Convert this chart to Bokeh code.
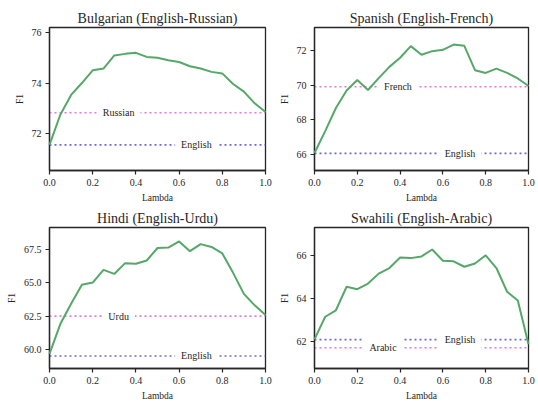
from bokeh.plotting import figure
from bokeh.layouts import column, row
from bokeh.models import Label, FixedTicker, NumeralTickFormatter, Range1d
from bokeh.embed import file_html
from bokeh.resources import INLINE

lambdas = [0.0, 0.05, 0.1, 0.15, 0.2, 0.25, 0.3, 0.35, 0.4, 0.45, 0.5,
           0.55, 0.6, 0.65, 0.7, 0.75, 0.8, 0.85, 0.9, 0.95, 1.0]

bg_f1 = [71.56, 72.75, 73.53, 74.0, 74.5, 74.57, 75.09, 75.15, 75.19, 75.03, 75.0,
         74.9, 74.83, 74.66, 74.57, 74.44, 74.38, 73.96, 73.66, 73.2, 72.86]
es_f1 = [66.06, 67.33, 68.67, 69.68, 70.29, 69.71, 70.4, 71.05, 71.58, 72.25, 71.75,
         71.96, 72.04, 72.34, 72.27, 70.86, 70.7, 70.95, 70.7, 70.38, 69.94]
hi_f1 = [59.66, 61.9, 63.43, 64.85, 65.02, 65.97, 65.67, 66.48, 66.43, 66.68, 67.62,
         67.65, 68.11, 67.38, 67.91, 67.7, 67.21, 65.75, 64.17, 63.31, 62.58]
sw_f1 = [62.12, 63.17, 63.47, 64.56, 64.45, 64.71, 65.17, 65.43, 65.92, 65.89, 65.97,
         66.29, 65.77, 65.74, 65.49, 65.64, 66.02, 65.43, 64.33, 63.92, 61.89]

titles = ["Bulgarian (English-Russian)", "Spanish (English-French)",
          "Hindi (English-Urdu)", "Swahili (English-Arabic)"]

# baselines: (name, value, label position)
bg_refs = [("Russian", 72.83, 0.32), ("English", 71.56, 0.68)]
es_refs = [("French", 69.9, 0.39), ("English", 66.04, 0.68)]
hi_refs = [("Urdu", 62.5, 0.32), ("English", 59.5, 0.68)]
sw_refs = [("English", 62.11, 0.68), ("Arabic", 61.73, 0.32)]

y_ranges = [(70.55, 76.19), (65.05, 73.33), (58.56, 69.16), (60.77, 67.31)]
y_ticks = [[72, 74, 76], [66, 68, 70, 72], [60.0, 62.5, 65.0, 67.5], [62, 64, 66]]
y_formats = ["0", "0", "0.0", "0"]

x_ticks = [0.0, 0.2, 0.4, 0.6, 0.8, 1.0]

FONT = "Liberation Serif"
DARK = "#262626"
GREEN = "#55a868"
REF_COLORS = {"English": "#6f68d8", "Russian": "#e07ad6", "French": "#e07ad6",
              "Urdu": "#e07ad6", "Arabic": "#e07ad6"}


def panel(title, ys, refs, yr, yt, yf, width, height, mbl, mbr, mbt, mbb, pad_y=3):
    p = figure(width=width, height=height, output_backend="svg", toolbar_location=None,
               x_range=Range1d(0, 1), y_range=Range1d(*yr),
               min_border_left=mbl, min_border_right=mbr,
               min_border_top=mbt, min_border_bottom=mbb)
    p.title.text = title
    p.title.align = "center"
    p.title.text_font = FONT
    p.title.text_font_size = "14px"
    p.title.text_font_style = "normal"
    p.title.text_color = DARK
    p.title.standoff = 4
    p.title.offset = 0
    p.xgrid.visible = False
    p.ygrid.visible = False
    p.outline_line_color = DARK
    p.outline_line_width = 1.3
    p.outline_line_alpha = 1
    for ax in (p.xaxis[0], p.yaxis[0]):
        ax.axis_line_color = DARK
        ax.axis_line_width = 1.3
        ax.major_tick_line_color = DARK
        ax.major_tick_line_width = 1.2
        ax.major_tick_out = 4
        ax.major_tick_in = 0
        ax.minor_tick_line_color = None
        ax.major_label_text_font = FONT
        ax.major_label_text_font_size = "10px"
        ax.major_label_text_color = DARK
        ax.axis_label_text_font = FONT
        ax.axis_label_text_font_size = "9.5px"
        ax.axis_label_text_font_style = "normal"
        ax.axis_label_text_color = DARK
        ax.major_label_standoff = 4
        ax.axis_label_standoff = 4
    p.xaxis.ticker = FixedTicker(ticks=x_ticks)
    p.xaxis.formatter = NumeralTickFormatter(format="0.0")
    p.yaxis.ticker = FixedTicker(ticks=yt)
    p.yaxis.formatter = NumeralTickFormatter(format=yf)
    p.xaxis.axis_label = "Lambda"
    p.yaxis.axis_label = "F1"

    for name, val, _ in refs:
        p.line([0, 1], [val, val], line_color=REF_COLORS[name], line_width=1.6,
               line_dash="2 3")
    for name, val, lx in refs:
        p.add_layout(Label(x=lx, y=val, text=name, text_align="center",
                           text_baseline="middle", text_font=FONT,
                           text_font_size="10px", text_color=DARK,
                           background_fill_color="white", padding=(6, pad_y)))
    p.line(lambdas, ys, line_color=GREEN, line_width=2, level="overlay")
    return p


p1 = panel(titles[0], bg_f1, bg_refs, y_ranges[0], y_ticks[0], y_formats[0],
           276, 205, 49, 11, 27, 33)
p2 = panel(titles[1], es_f1, es_refs, y_ranges[1], y_ticks[1], y_formats[1],
           262, 205, 36, 10, 27, 33)
p3 = panel(titles[2], hi_f1, hi_refs, y_ranges[2], y_ticks[2], y_formats[2],
           276, 198, 49, 11, 22, 31)
p4 = panel(titles[3], sw_f1, sw_refs, y_ranges[3], y_ticks[3], y_formats[3],
           262, 198, 36, 10, 22, 31, pad_y=6)

layout = column(row(p1, p2), row(p3, p4))
open("out.html", "w").write(file_html(layout, INLINE))
